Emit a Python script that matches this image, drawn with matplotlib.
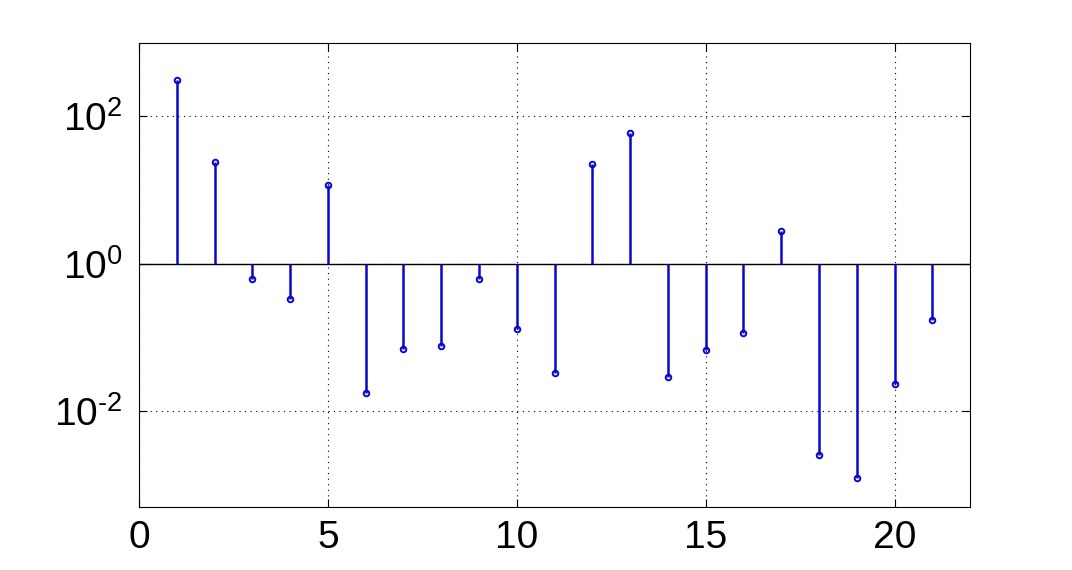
import matplotlib
matplotlib.use("Agg")
import matplotlib.pyplot as plt
import numpy as np

# Data (stem values on a log axis, baseline at 1)
n = np.arange(1, 22)
values = [308, 23.6, 0.625, 0.334, 11.5, 0.0177, 0.070, 0.0769, 0.625, 0.131,
          0.033, 22.1, 58.4, 0.029, 0.068, 0.1155, 2.72, 0.00254, 0.00124,
          0.0234, 0.174]
xticks = [0, 5, 10, 15, 20]
yticks = [1e-2, 1e0, 1e2]
ytick_labels = ["$10^{\u20102}$", r"$10^{0}$", r"$10^{2}$"]

plt.rcParams.update({
    'font.family': 'Liberation Sans',
    'mathtext.fontset': 'custom',
    'mathtext.rm': 'Liberation Sans',
    'mathtext.it': 'Liberation Sans',
    'font.size': 28,
})

blue = '#0808cc'

fig = plt.figure(figsize=(10.72, 5.70), dpi=100)
ax = fig.add_axes([0.1297, 0.110, 0.7752, 0.814])
ax.set_yscale('log')

ax.vlines(n, 1, values, color=blue, lw=1.8, zorder=3)
ax.plot(n, values, 'o', ms=4, mfc='none', mec=blue, mew=1.4, zorder=4)
ax.axhline(1, color='black', lw=1.0, zorder=2)

ax.set_xlim(0, 22)
ax.set_ylim(10 ** -3.306, 10 ** 2.986)
ax.set_xticks(xticks)
ax.set_xticklabels([str(t) for t in xticks])
ax.set_yticks(yticks)
ax.set_yticklabels(ytick_labels)
ax.yaxis.set_minor_locator(matplotlib.ticker.NullLocator())

ax.grid(True, which='major', color='black', ls=(0, (1, 4)), lw=0.8)
ax.tick_params(direction='in', top=True, right=True, length=6, width=0.8)
ax.tick_params(axis='x', pad=9)
ax.tick_params(axis='y', pad=12)
for s in ax.spines.values():
    s.set_linewidth(0.8)

fig.savefig("out.png", dpi=100)
